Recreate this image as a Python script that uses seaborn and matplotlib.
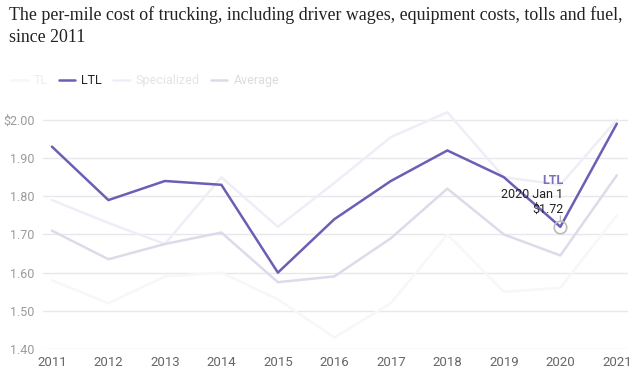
import pandas as pd
import matplotlib.pyplot as plt
import seaborn as sns
from matplotlib.lines import Line2D

# Per-mile trucking cost by segment
years = [2011, 2012, 2013, 2014, 2015, 2016, 2017, 2018, 2019, 2020, 2021]
tl = [1.58, 1.52, 1.59, 1.60, 1.53, 1.43, 1.52, 1.70, 1.55, 1.56, 1.75]
ltl = [1.93, 1.79, 1.84, 1.83, 1.60, 1.74, 1.84, 1.92, 1.85, 1.72, 1.99]
specialized = [1.79, 1.73, 1.675, 1.85, 1.72, 1.835, 1.955, 2.02, 1.85, 1.83, 2.00]
average = [1.71, 1.635, 1.675, 1.705, 1.575, 1.59, 1.69, 1.82, 1.70, 1.645, 1.855]

series = ['TL', 'LTL', 'Specialized', 'Average']
colors = {'TL': '#f7f7f9', 'LTL': '#6b5fb5', 'Specialized': '#efeef8', 'Average': '#dddbe9'}
text_colors = {'TL': '#ececee', 'LTL': '#222222', 'Specialized': '#e4e4e8', 'Average': '#dcdce0'}

df = pd.DataFrame({
    'Year': years * 4,
    'Cost': tl + ltl + specialized + average,
    'Series': ['TL'] * 11 + ['LTL'] * 11 + ['Specialized'] * 11 + ['Average'] * 11,
})

sns.set_style('white')
plt.rcParams['font.family'] = ['Roboto', 'DejaVu Sans']

fig = plt.figure(figsize=(6.4, 3.8), dpi=100)
ax = fig.add_axes([0.067, 0.0816, 0.914, 0.633])

# draw faint ones first, LTL on top
order = ['TL', 'Specialized', 'Average', 'LTL']
for s in order:
    sns.lineplot(data=df[df['Series'] == s], x='Year', y='Cost', color=colors[s],
                 linewidth=1.8, ax=ax, legend=False)

ax.set_xlim(2010.84, 2021.195)
ax.set_ylim(1.40, 2.03)
ax.set_xticks(years)
ax.set_xticklabels([str(y) for y in years])
yt = [1.40, 1.50, 1.60, 1.70, 1.80, 1.90, 2.00]
ax.set_yticks(yt)
ax.set_yticklabels(['1.40', '1.50', '1.60', '1.70', '1.80', '1.90', '$2.00'])
ax.tick_params(axis='y', colors='#9a9a9a', labelsize=9, length=0, pad=6)
ax.tick_params(axis='x', colors='#666666', labelsize=9.5, length=0, pad=5)
ax.grid(axis='y', color='#e8e8ec', linewidth=1)
ax.set_xlabel('')
ax.set_ylabel('')
for sp in ax.spines.values():
    sp.set_visible(False)

# tooltip at 2020
ax.plot([2020], [1.72], marker='o', markersize=9, markerfacecolor='none',
        markeredgecolor='#bbbbbb', markeredgewidth=1.2, zorder=5)
ax.annotate('', xy=(2020, 1.72), xytext=(0, 8), textcoords='offset points',
            arrowprops=dict(arrowstyle='-', color='#aaaaaa', lw=0.8, shrinkA=0, shrinkB=4))
ax.annotate('$1.72', xy=(2020, 1.72), xytext=(2, 8), textcoords='offset points',
            ha='right', va='bottom', fontsize=9, color='#222222')
ax.annotate('2020 Jan 1', xy=(2020, 1.72), xytext=(2, 18.5), textcoords='offset points',
            ha='right', va='bottom', fontsize=9, color='#222222')
ax.annotate('LTL', xy=(2020, 1.72), xytext=(2, 29), textcoords='offset points',
            ha='right', va='bottom', fontsize=9, color='#7a70bf', fontweight='bold')

handles = [Line2D([0], [0], color=colors[s], lw=1.8) for s in series]
leg = fig.legend(handles, series, loc='upper left', bbox_to_anchor=(0.0, 0.835),
                 ncol=4, frameon=False, fontsize=9, handlelength=1.3,
                 handletextpad=0.5, columnspacing=0.9)
for t, s in zip(leg.get_texts(), series):
    t.set_color(text_colors[s])

fig.text(0.014, 0.984, 'The per-mile cost of trucking, including driver wages, equipment costs, tolls and fuel,\nsince 2011',
         ha='left', va='top', fontsize=12.9, color='#222222', family='Liberation Serif',
         linespacing=1.35)

fig.savefig('out.png', dpi=100)
